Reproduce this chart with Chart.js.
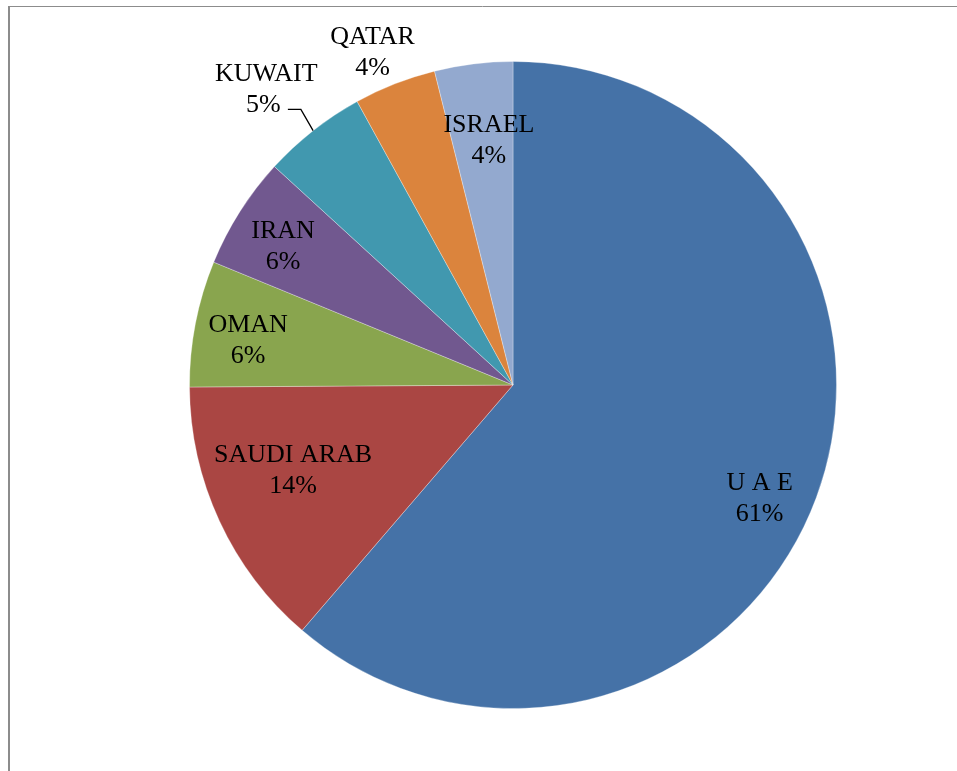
<!DOCTYPE html>
<html>
<head>
<meta charset="utf-8">
<script src="https://cdn.jsdelivr.net/npm/chart.js@4/dist/chart.umd.min.js"></script>
<style>
  html, body { margin: 0; padding: 0; background: #fff; }
  #wrap { position: relative; width: 957px; height: 771px; }
  .fontwarm { font-family: "Liberation Serif"; position: absolute; left: -999px; }
</style>
</head>
<body>
<div id="wrap"><canvas id="pie" width="957" height="771"></canvas></div>
<span class="fontwarm">KUWAIT 5%</span>
<script>
// Chart data
const countries = ['U A E', 'SAUDI ARAB', 'OMAN', 'IRAN', 'KUWAIT', 'QATAR', 'ISRAEL'];
const shares = [61.3, 13.6, 6.3, 5.6, 5.2, 4.1, 3.9];
const sliceColors = ['#4572A7', '#AA4643', '#89A54E', '#71588F', '#4198AF', '#DB843D', '#93A9CF'];

// label placement: fraction of radius, angle nudge (deg), leader line flag
const labelPlacement = [
    { r: 0.84, da: 4.5 },
    { r: 0.73, da: 3.5 },
    { r: 0.83, da: -1.5 },
    { r: 0.83, da: -1.3 },
    { r: 1.19, da: -1.7, leader: true },
    { r: 1.115, da: -1.5 },
    { r: 0.76, da: 1.4 }
];

const LABEL_FONT = '26px "Liberation Serif", "Times New Roman", serif';

// frame like the Word chart area (top + left edges only visible)
const framePlugin = {
    id: 'frame',
    beforeDraw(chart) {
        const ctx = chart.ctx;
        ctx.save();
        ctx.strokeStyle = '#8c8c8c';
        ctx.lineWidth = 1;
        ctx.beginPath();
        ctx.moveTo(8, 6.5);
        ctx.lineTo(957, 6.5);
        ctx.stroke();
        ctx.lineWidth = 2;
        ctx.beginPath();
        ctx.moveTo(9, 6);
        ctx.lineTo(9, 771);
        ctx.stroke();
        ctx.restore();
    }
};

const labelPlugin = {
    id: 'sliceLabels',
    afterDatasetsDraw(chart) {
        const ctx = chart.ctx;
        const meta = chart.getDatasetMeta(0);
        const total = shares.reduce((a, b) => a + b, 0);
        ctx.save();
        ctx.font = LABEL_FONT;
        ctx.fillStyle = '#000';
        ctx.textAlign = 'center';
        ctx.textBaseline = 'middle';
        meta.data.forEach((arc, i) => {
            const p = arc.getProps(['x', 'y', 'startAngle', 'endAngle', 'outerRadius'], true);
            const mid = (p.startAngle + p.endAngle) / 2;
            const pl = labelPlacement[i];
            const a = mid + pl.da * Math.PI / 180;
            const lx = p.x + Math.cos(a) * p.outerRadius * pl.r;
            const ly = p.y + Math.sin(a) * p.outerRadius * pl.r;
            const pct = Math.round(shares[i] / total * 100) + '%';
            ctx.fillText(countries[i], lx, ly - 15.5);
            ctx.fillText(pct, lx - (pl.leader ? 3 : 0), ly + 15.5);

            if (pl.leader) {
                // leader line from slice edge to the label
                const ex = p.x + Math.cos(mid) * p.outerRadius;
                const ey = p.y + Math.sin(mid) * p.outerRadius;
                const kx = p.x + Math.cos(mid + 0.01) * p.outerRadius * 1.075;
                const ky = p.y + Math.sin(mid + 0.01) * p.outerRadius * 1.075;
                ctx.strokeStyle = '#000';
                ctx.lineWidth = 1.3;
                ctx.beginPath();
                ctx.moveTo(ex, ey);
                ctx.lineTo(kx, ky);
                ctx.lineTo(kx - 13, ky);
                ctx.stroke();
            }
        });
        ctx.restore();
    }
};

function drawChart() {
    new Chart(document.getElementById('pie'), {
        type: 'pie',
        data: {
            labels: countries,
            datasets: [{
                data: shares,
                backgroundColor: sliceColors,
                borderColor: 'rgba(255,255,255,0.3)',
                borderWidth: 1
            }]
        },
        options: {
            responsive: false,
            animation: false,
            rotation: 0,
            layout: { padding: { left: 189, right: 120, top: 61, bottom: 62 } },
            plugins: {
                legend: { display: false },
                tooltip: { enabled: false }
            }
        },
        plugins: [framePlugin, labelPlugin]
    });
}

document.fonts.load(LABEL_FONT).then(drawChart, drawChart);
</script>
</body>
</html>
